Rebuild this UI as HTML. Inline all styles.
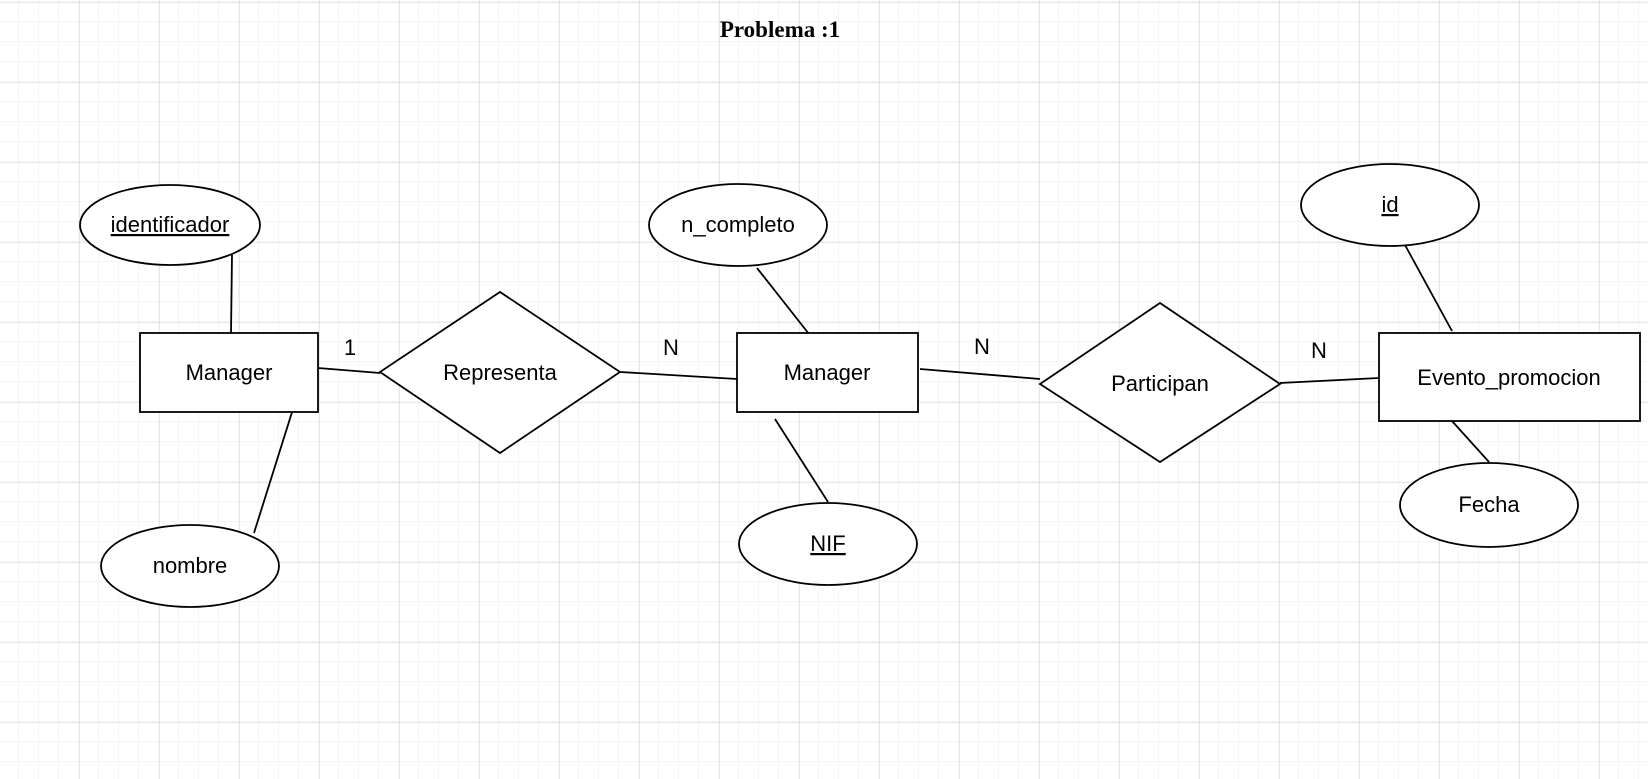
<!DOCTYPE html>
<html><head><meta charset="utf-8"><style>
html,body{margin:0;padding:0;background:#fff;}
svg{display:block;}
text{font-family:"Liberation Sans",Arial,sans-serif;font-size:22px;fill:#000;}
</style></head><body>
<svg width="1648" height="779" viewBox="0 0 1648 779" xmlns="http://www.w3.org/2000/svg">
<defs>
<pattern id="minor" x="-1" y="2" width="20" height="20" patternUnits="userSpaceOnUse">
<path d="M20 0V20M0 20H20" stroke="#f2f2f2" stroke-width="1.5" fill="none"/>
</pattern>
<pattern id="major" x="-1" y="2" width="80" height="80" patternUnits="userSpaceOnUse">
<path d="M0 0V80M0 0H80" stroke="#d2d2d2" stroke-width="1" fill="none"/>
</pattern>
</defs>
<rect width="1648" height="779" fill="#fff"/>
<rect width="1648" height="779" fill="url(#minor)"/>
<rect width="1648" height="779" fill="url(#major)"/>

<text x="780" y="37" text-anchor="middle" style="font-family:'Liberation Serif',serif;font-weight:bold;font-size:23px">Problema :1</text>

<g stroke="#000" stroke-width="1.8" fill="none">
<line x1="232" y1="255" x2="231" y2="333"/>
<line x1="293" y1="409" x2="254" y2="533"/>
<line x1="318" y1="368" x2="380" y2="373"/>
<line x1="620" y1="372" x2="737" y2="379"/>
<line x1="757" y1="268" x2="809" y2="334"/>
<line x1="775" y1="419" x2="828" y2="502"/>
<line x1="920" y1="369" x2="1040" y2="379"/>
<line x1="1280" y1="383" x2="1379" y2="378"/>
<line x1="1405" y1="245" x2="1452" y2="331"/>
<line x1="1452" y1="421" x2="1489" y2="462"/>
</g>
<g stroke="#000" stroke-width="1.8" fill="#fff">
<rect x="140" y="333" width="178" height="79"/>
<rect x="737" y="333" width="181" height="79"/>
<rect x="1379" y="333" width="261" height="88"/>
<ellipse cx="170" cy="225" rx="90" ry="40"/>
<ellipse cx="190" cy="566" rx="89" ry="41"/>
<ellipse cx="738" cy="225" rx="89" ry="41"/>
<ellipse cx="828" cy="544" rx="89" ry="41"/>
<ellipse cx="1390" cy="205" rx="89" ry="41"/>
<ellipse cx="1489" cy="505" rx="89" ry="42"/>
<polygon points="380,372 500,292 620,372 500,453"/>
<polygon points="1040,384 1160,303 1280,384 1160,462"/>
</g>
<g text-anchor="middle">
<text x="229" y="380">Manager</text>
<text x="827" y="380">Manager</text>
<text x="1509" y="385">Evento_promocion</text>
<text x="170" y="232" text-decoration="underline">identificador</text>
<text x="190" y="573">nombre</text>
<text x="738" y="232">n_completo</text>
<text x="828" y="551" text-decoration="underline">NIF</text>
<text x="1390" y="212" text-decoration="underline">id</text>
<text x="1489" y="512">Fecha</text>
<text x="500" y="380">Representa</text>
<text x="1160" y="391">Participan</text>
<text x="350" y="355">1</text>
<text x="671" y="355">N</text>
<text x="982" y="354">N</text>
<text x="1319" y="358">N</text>
</g>
</svg>
</body></html>
